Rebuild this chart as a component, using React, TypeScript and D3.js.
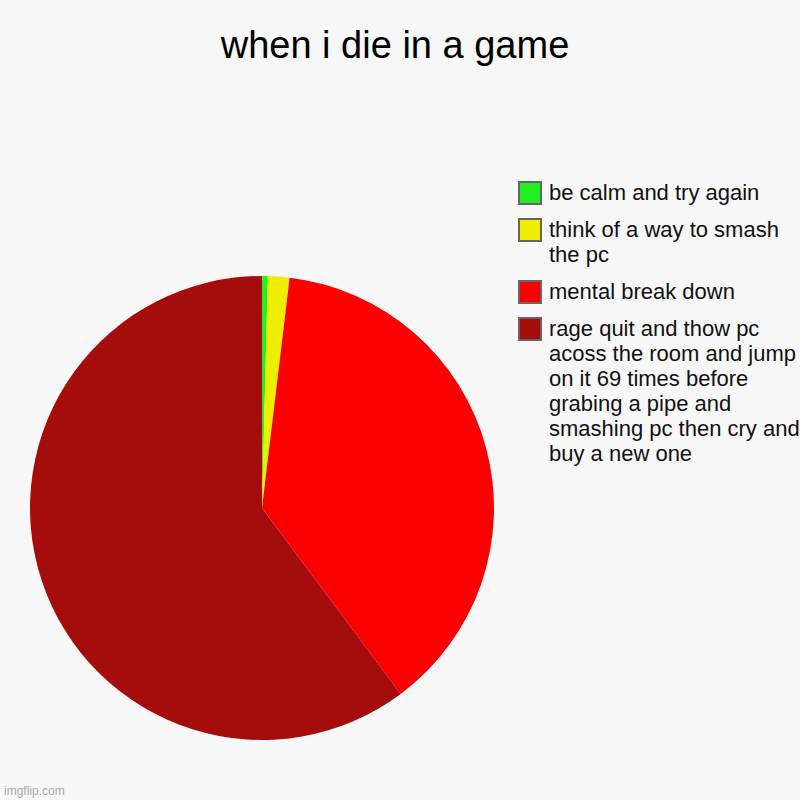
import React from "react";
import * as d3 from "d3";

const title = "when i die in a game";
const categories = [
  "be calm and try again",
  "think of a way to smash the pc",
  "mental break down",
  "rage quit and thow pc acoss the room and jump on it 69 times before grabing a pipe and smashing pc then cry and buy a new one",
];
const values = [0.4, 1.5, 37.9, 60.2];
const colors = ["#22ee22", "#eeee00", "#fb0000", "#a50d0d"];
const legendLines = [
  ["be calm and try again"],
  ["think of a way to smash", "the pc"],
  ["mental break down"],
  [
    "rage quit and thow pc",
    "acoss the room and jump",
    "on it 69 times before",
    "grabing a pipe and",
    "smashing pc then cry and",
    "buy a new one",
  ],
];

export default function App() {
  const W = 800, H = 800;
  const cx = 262, cy = 508, r = 232;
  const data = categories.map((c, i) => ({ c, v: values[i], color: colors[i] }));
  const pie = d3.pie<any>().value((d) => d.v).sort(null);
  const arcs = pie(data);
  const arc = d3.arc<any>().innerRadius(0).outerRadius(r);

  const lineH = 25;
  const legendX = 518;
  let y = 200;
  const items = legendLines.map((lines, i) => {
    const item = { lines, top: y, color: colors[i] };
    y += lines.length * lineH + 12;
    return item;
  });

  const font = "Arial, 'Liberation Sans', Helvetica, sans-serif";
  return (
    <svg width={W} height={H} style={{ position: "absolute", left: 0, top: 0, background: "#f7f7f7" }}>
      <rect width={W} height={H} fill="#f7f7f7" />
      <text x={395} y={58} textAnchor="middle" fontFamily={font} fontSize={38} fill="#000">
        {title}
      </text>
      <g transform={`translate(${cx},${cy})`}>
        {arcs.map((a, i) => (
          <path key={i} d={arc(a) || ""} fill={a.data.color} />
        ))}
      </g>
      {items.map((it, i) => (
        <g key={i}>
          <rect x={legendX + 1} y={it.top - 18} width={22} height={22} fill={it.color} stroke="#666" strokeWidth={2} />
          {it.lines.map((l, j) => (
            <text key={j} x={549} y={it.top + j * lineH} fontFamily={font} fontSize={22} fill="#111">
              {l}
            </text>
          ))}
        </g>
      ))}
      <text x={4} y={795} fontFamily={font} fontSize={12} fill="#aaa">imgflip.com</text>
    </svg>
  );
}
